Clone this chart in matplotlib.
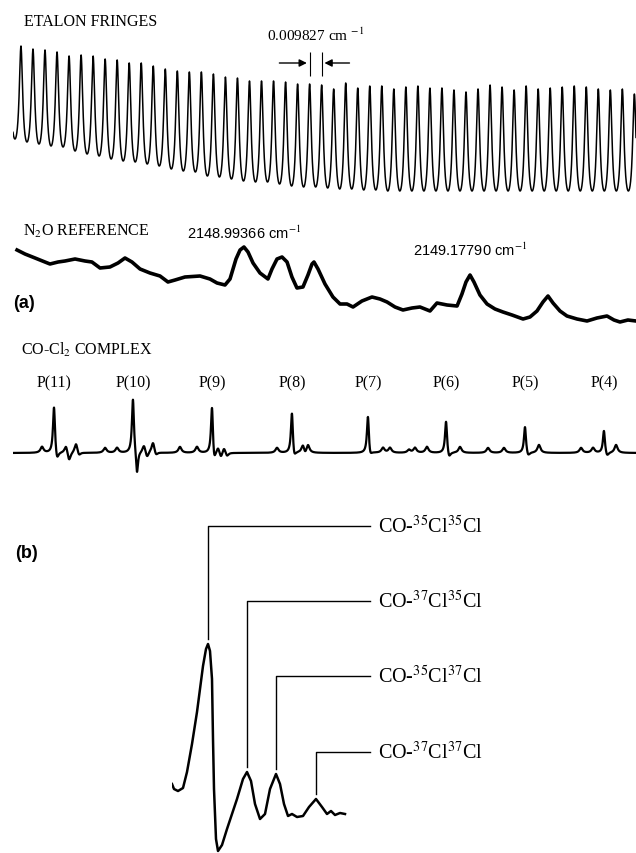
import numpy as np
import matplotlib
matplotlib.use("Agg")
import matplotlib.pyplot as plt

plt.rcParams['font.family'] = ['Liberation Serif', 'DejaVu Serif']
plt.rcParams['mathtext.fontset'] = 'stix'

W, H = 636, 854

# ---- panel (a) data; x = relative wavenumber in 10^-3 cm^-1 from scan start ----
fsr = 9.827            # etalon free spectral range (0.009827 cm-1)
first_fringe = 6.5
fringe_top = [153, 150, 149, 147, 143, 144, 143, 140, 139, 136, 136, 133, 130,
              128, 127, 127, 125, 122, 121, 118, 118, 118, 117, 115,
              115, 114, 110, 116, 111, 113, 113, 110, 112, 113, 111, 111, 109,
              107, 110, 114, 112, 109, 113, 110, 111, 112, 113, 112, 110, 109,
              110, 105]
fringe_bottom = [60, 57, 55, 53, 52, 48, 45, 43, 40, 38,
                 37, 35, 33, 30, 28, 27, 23, 22, 20, 18,
                 17, 17, 15, 13, 12, 12, 11, 10, 10, 9,
                 9, 8, 8, 8, 8, 8, 8, 8, 8, 8,
                 8, 8, 8, 8, 8, 8, 8, 8, 8, 8,
                 8, 8, 8]
finesse_F = 3.0

n2o_x = [3.3, 9.8, 18.0, 26.1, 30.2, 36.8, 42.5, 50.7, 58.8, 64.5, 71.1, 79.2,
         85.8, 91.5, 97.2, 103.8, 111.9, 120.1, 126.6, 132.4, 140.5, 152.8,
         160.9, 166.7, 173.2, 177.3, 182.2, 185.5, 188.7, 192.0, 196.1, 201.8,
         208.3, 211.6, 215.7, 219.8, 223.9, 227.9, 232.0, 236.9, 241.0, 244.3,
         245.9, 249.2, 254.9, 261.4, 267.2, 272.9, 277.8, 285.1, 293.3, 299.8,
         305.6, 312.1, 318.6, 326.0, 332.5, 340.7, 346.4, 354.6, 362.8, 366.8,
         370.1, 373.4, 376.6, 381.5, 387.3, 393.8, 400.3, 407.7, 416.7, 422.4,
         428.1, 433.0, 437.1, 441.2, 446.9, 452.6, 460.8, 469.0, 477.1, 485.3,
         491.0, 495.9, 502.4, 509.0]
n2o_y = [79, 75, 71, 67, 65, 67, 68, 70, 68, 67, 61, 62,
         66, 71, 67, 60, 56, 53, 47, 49, 52, 53,
         50, 46, 44, 50, 70, 79, 82, 77, 66, 56,
         50, 60, 70, 72, 67, 52, 41, 42, 54, 65,
         67, 60, 45, 32, 25, 25, 22, 28, 32, 30,
         27, 22, 19, 21, 22, 18, 26, 24, 23, 35,
         47, 54, 47, 34, 25, 20, 17, 14, 10, 12,
         18, 27, 33, 26, 18, 13, 10, 8, 11, 13,
         9, 7, 9, 8]
n2o_peaks = [188.7, 373.4]
n2o_labels = ['2148.99366 cm$^{-1}$', '2149.17790 cm$^{-1}$']

co_baseline = 26
co_pos = [23.7, 33.5, 35.9, 43.3, 45.8, 51.5, 53.9, 75.2, 85.0,
          98.0, 101.3, 107.0, 109.5, 114.4, 116.8, 136.4, 150.3,
          162.6, 164.2, 167.5, 169.9, 172.4, 174.8, 215.7,
          227.9, 229.6, 236.9, 238.6, 241.0,
          290.0, 291.7, 302.3, 308.0, 323.5, 328.4,
          338.2, 353.8, 356.2, 365.2,
          388.1, 401.1, 418.3, 420.8, 429.7,
          464.1, 473.9, 482.8, 485.3, 492.7]
co_amp = [6, 48, -10, 8, -9, 10, -4, 5, 5,
          55, -24, 8, -6, 11, -4, 6, 6,
          51, -14, 6, -6, 6, -4, 5,
          43, -9, 8, -4, 8,
          39, -7, 5, 5, 3, 5,
          6, 33, -7, 6,
          5, 5, 27, -5, 8,
          5, 5, 23, -5, 8]
co_main = [33.5, 98.0, 162.6, 227.9, 290.0, 353.8, 418.3, 482.8]
co_names = ['P(11)', 'P(10)', 'P(9)', 'P(8)', 'P(7)', 'P(6)', 'P(5)', 'P(4)']

# ---- panel (b) data ----
b_x = [0, 2, 6, 11, 15, 20, 25, 31, 34, 36, 38, 40, 41, 42, 44, 46, 50, 55,
       60, 65, 71, 75, 79, 83, 88, 93, 98, 104, 108, 112, 116, 120, 125, 131,
       137, 144, 150, 155, 159, 163, 168, 173]
b_y = [69, 64, 62, 65, 81, 109, 141, 187, 204, 209, 202, 174, 114, 64, 14, 2,
       8, 24, 39, 54, 74, 81, 72, 49, 34, 39, 64, 79, 69, 49, 37, 39, 36, 37,
       46, 54, 46, 39, 42, 38, 40, 39]
b_peak_x = [36, 75, 104, 144]
b_peak_y = [209, 81, 79, 54]
b_label_y = [327, 252, 177, 101]
b_names = ['CO-$^{35}$Cl$^{35}$Cl', 'CO-$^{37}$Cl$^{35}$Cl',
           'CO-$^{35}$Cl$^{37}$Cl', 'CO-$^{37}$Cl$^{37}$Cl']


def box(x0, y0, x1, y1):
    return [x0 / W, 1 - y1 / H, (x1 - x0) / W, (y1 - y0) / H]


fig = plt.figure(figsize=(W / 100, H / 100), dpi=100)

# etalon fringes (Airy profile between the read trough and top levels)
ax1 = fig.add_axes(box(13, 30, 636, 200))
x = np.linspace(0, 509, 6000)
k = np.clip(np.round((x - first_fringe) / fsr), 0, len(fringe_top) - 1).astype(int)
phi = (x - first_fringe) / fsr - k
airy = 1 / (1 + finesse_F * np.sin(np.pi * phi) ** 2)
amin = 1 / (1 + finesse_F)
shape = (airy - amin) / (1 - amin)
top = np.array(fringe_top)[k]
bottom = np.where(phi < 0, np.array(fringe_bottom)[k], np.array(fringe_bottom)[k + 1])
ax1.plot(x, bottom + (top - bottom) * shape, color='black', lw=1.1)
ax1.set_xlim(0, 509)
ax1.set_ylim(0, 170)
ax1.axis('off')

m1 = first_fringe + 24 * fsr
m2 = m1 + fsr
ax1.vlines([m1, m2], 123, 147, color='black', lw=0.8)
ax1.annotate('', xy=(m1, 136), xytext=(m1 - 27, 136),
             arrowprops=dict(arrowstyle='-|>', color='black', lw=1.0, mutation_scale=11))
ax1.annotate('', xy=(m2, 136), xytext=(m2 + 25, 136),
             arrowprops=dict(arrowstyle='-|>', color='black', lw=1.0, mutation_scale=11))
ax1.text((m1 + m2) / 2, 165, '0.009827 cm $^{-1}$', ha='center', va='center', fontsize=11)

# N2O reference
ax2 = fig.add_axes(box(13, 230, 636, 330))
ax2.plot(n2o_x, n2o_y, color='black', lw=2.6, solid_joinstyle='round')
ax2.set_xlim(0, 509)
ax2.set_ylim(0, 100)
ax2.axis('off')
for px, lab, ly in zip(n2o_peaks, n2o_labels, [97, 80]):
    ax2.text(px, ly, lab, ha='center', va='center', fontsize=10.5,
             family=['Liberation Sans', 'DejaVu Sans'])

# CO-Cl2 complex
ax3 = fig.add_axes(box(13, 390, 636, 480))
xc = np.linspace(0, 509, 6000)
yc = np.full_like(xc, co_baseline, dtype=float)
for p, a in zip(co_pos, co_amp):
    hw = 1.0 if abs(a) > 20 else 1.5
    yc += a * hw ** 2 / ((xc - p) ** 2 + hw ** 2)
ax3.plot(xc, yc, color='black', lw=1.6)
ax3.set_xlim(0, 509)
ax3.set_ylim(0, 90)
ax3.axis('off')
for p, name in zip(co_main, co_names):
    ax3.text(p, 97, name, ha='center', va='center', fontsize=11.5, clip_on=False)

# panel (b)
ax4 = fig.add_axes(box(172, 500, 636, 854))
ax4.plot(b_x, b_y, color='black', lw=1.8, solid_joinstyle='round')
for px, py, ly, name in zip(b_peak_x, b_peak_y, b_label_y, b_names):
    ax4.plot([px, px, 198], [py + 5, ly, ly], color='black', lw=1.0)
    ax4.text(206, ly, name, ha='left', va='center', fontsize=14.5)
ax4.set_xlim(0, 464)
ax4.set_ylim(0, 354)
ax4.axis('off')

fig.text(24 / W, 1 - 22 / H, 'ETALON FRINGES', fontsize=11.5, va='center')
fig.text(23 / W, 1 - 231 / H, 'N$_2$O REFERENCE', fontsize=11.5, va='center')
fig.text(21 / W, 1 - 350 / H, 'CO-Cl$_2$ COMPLEX', fontsize=11.5, va='center')
fig.text(13 / W, 1 - 303 / H, '(a)', fontsize=13, fontweight='bold', va='center',
         family=['Liberation Sans', 'DejaVu Sans'])
fig.text(15 / W, 1 - 553 / H, '(b)', fontsize=13, fontweight='bold', va='center',
         family=['Liberation Sans', 'DejaVu Sans'])

fig.savefig('out.png', dpi=100)
